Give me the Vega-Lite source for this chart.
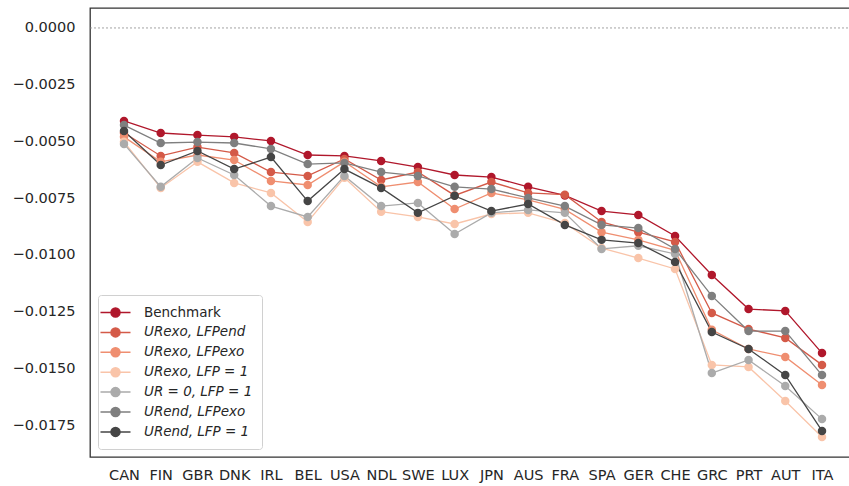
{
  "$schema": "https://vega.github.io/schema/vega-lite/v6.json",
  "width": 766,
  "height": 449,
  "autosize": {"type": "none"},
  "padding": {"left": 90, "top": 8, "right": 0, "bottom": 29},
  "background": "white",
  "config": {
    "font": "DejaVu Sans",
    "view": {"stroke": "#333333", "strokeWidth": 1.3},
    "axis": {"grid": false, "ticks": false, "tickSize": 0, "domain": false, "labelColor": "#262626", "labelFontSize": 14.5, "title": null}
  },
  "datasets": {
    "main": [
      {"c":"CAN","s":"Benchmark","v":-0.0041},{"c":"FIN","s":"Benchmark","v":-0.00463},{"c":"GBR","s":"Benchmark","v":-0.00472},{"c":"DNK","s":"Benchmark","v":-0.0048},{"c":"IRL","s":"Benchmark","v":-0.00498},{"c":"BEL","s":"Benchmark","v":-0.0056},{"c":"USA","s":"Benchmark","v":-0.00564},{"c":"NDL","s":"Benchmark","v":-0.00586},{"c":"SWE","s":"Benchmark","v":-0.00613},{"c":"LUX","s":"Benchmark","v":-0.00648},{"c":"JPN","s":"Benchmark","v":-0.00657},{"c":"AUS","s":"Benchmark","v":-0.0070},{"c":"FRA","s":"Benchmark","v":-0.00738},{"c":"SPA","s":"Benchmark","v":-0.00807},{"c":"GER","s":"Benchmark","v":-0.00824},{"c":"CHE","s":"Benchmark","v":-0.00917},{"c":"GRC","s":"Benchmark","v":-0.01089},{"c":"PRT","s":"Benchmark","v":-0.01239},{"c":"AUT","s":"Benchmark","v":-0.01247},{"c":"ITA","s":"Benchmark","v":-0.01433},
      {"c":"CAN","s":"URexo, LFPend","v":-0.00462},{"c":"FIN","s":"URexo, LFPend","v":-0.00564},{"c":"GBR","s":"URexo, LFPend","v":-0.00525},{"c":"DNK","s":"URexo, LFPend","v":-0.00551},{"c":"IRL","s":"URexo, LFPend","v":-0.00635},{"c":"BEL","s":"URexo, LFPend","v":-0.00652},{"c":"USA","s":"URexo, LFPend","v":-0.00577},{"c":"NDL","s":"URexo, LFPend","v":-0.0067},{"c":"SWE","s":"URexo, LFPend","v":-0.00635},{"c":"LUX","s":"URexo, LFPend","v":-0.00738},{"c":"JPN","s":"URexo, LFPend","v":-0.00679},{"c":"AUS","s":"URexo, LFPend","v":-0.00727},{"c":"FRA","s":"URexo, LFPend","v":-0.00735},{"c":"SPA","s":"URexo, LFPend","v":-0.00855},{"c":"GER","s":"URexo, LFPend","v":-0.009},{"c":"CHE","s":"URexo, LFPend","v":-0.00943},{"c":"GRC","s":"URexo, LFPend","v":-0.01256},{"c":"PRT","s":"URexo, LFPend","v":-0.01327},{"c":"AUT","s":"URexo, LFPend","v":-0.01366},{"c":"ITA","s":"URexo, LFPend","v":-0.01485},
      {"c":"CAN","s":"URexo, LFPexo","v":-0.0048},{"c":"FIN","s":"URexo, LFPexo","v":-0.0059},{"c":"GBR","s":"URexo, LFPexo","v":-0.0056},{"c":"DNK","s":"URexo, LFPexo","v":-0.00582},{"c":"IRL","s":"URexo, LFPexo","v":-0.00674},{"c":"BEL","s":"URexo, LFPexo","v":-0.00692},{"c":"USA","s":"URexo, LFPexo","v":-0.0059},{"c":"NDL","s":"URexo, LFPexo","v":-0.0070},{"c":"SWE","s":"URexo, LFPexo","v":-0.00679},{"c":"LUX","s":"URexo, LFPexo","v":-0.00798},{"c":"JPN","s":"URexo, LFPexo","v":-0.00727},{"c":"AUS","s":"URexo, LFPexo","v":-0.00758},{"c":"FRA","s":"URexo, LFPexo","v":-0.0080},{"c":"SPA","s":"URexo, LFPexo","v":-0.009},{"c":"GER","s":"URexo, LFPexo","v":-0.00934},{"c":"CHE","s":"URexo, LFPexo","v":-0.0098},{"c":"GRC","s":"URexo, LFPexo","v":-0.0133},{"c":"PRT","s":"URexo, LFPexo","v":-0.01415},{"c":"AUT","s":"URexo, LFPexo","v":-0.0145},{"c":"ITA","s":"URexo, LFPexo","v":-0.01574},
      {"c":"CAN","s":"URexo, LFP = 1","v":-0.00502},{"c":"FIN","s":"URexo, LFP = 1","v":-0.00705},{"c":"GBR","s":"URexo, LFP = 1","v":-0.0059},{"c":"DNK","s":"URexo, LFP = 1","v":-0.00683},{"c":"IRL","s":"URexo, LFP = 1","v":-0.00727},{"c":"BEL","s":"URexo, LFP = 1","v":-0.00855},{"c":"USA","s":"URexo, LFP = 1","v":-0.0066},{"c":"NDL","s":"URexo, LFP = 1","v":-0.0081},{"c":"SWE","s":"URexo, LFP = 1","v":-0.00833},{"c":"LUX","s":"URexo, LFP = 1","v":-0.00864},{"c":"JPN","s":"URexo, LFP = 1","v":-0.0082},{"c":"AUS","s":"URexo, LFP = 1","v":-0.00815},{"c":"FRA","s":"URexo, LFP = 1","v":-0.0086},{"c":"SPA","s":"URexo, LFP = 1","v":-0.0097},{"c":"GER","s":"URexo, LFP = 1","v":-0.01014},{"c":"CHE","s":"URexo, LFP = 1","v":-0.01062},{"c":"GRC","s":"URexo, LFP = 1","v":-0.01485},{"c":"PRT","s":"URexo, LFP = 1","v":-0.01494},{"c":"AUT","s":"URexo, LFP = 1","v":-0.01644},{"c":"ITA","s":"URexo, LFP = 1","v":-0.01803},
      {"c":"CAN","s":"UR = 0, LFP = 1","v":-0.00511},{"c":"FIN","s":"UR = 0, LFP = 1","v":-0.0070},{"c":"GBR","s":"UR = 0, LFP = 1","v":-0.00573},{"c":"DNK","s":"UR = 0, LFP = 1","v":-0.00648},{"c":"IRL","s":"UR = 0, LFP = 1","v":-0.00785},{"c":"BEL","s":"UR = 0, LFP = 1","v":-0.00833},{"c":"USA","s":"UR = 0, LFP = 1","v":-0.00652},{"c":"NDL","s":"UR = 0, LFP = 1","v":-0.00785},{"c":"SWE","s":"UR = 0, LFP = 1","v":-0.00771},{"c":"LUX","s":"UR = 0, LFP = 1","v":-0.00908},{"c":"JPN","s":"UR = 0, LFP = 1","v":-0.00815},{"c":"AUS","s":"UR = 0, LFP = 1","v":-0.00802},{"c":"FRA","s":"UR = 0, LFP = 1","v":-0.00815},{"c":"SPA","s":"UR = 0, LFP = 1","v":-0.00974},{"c":"GER","s":"UR = 0, LFP = 1","v":-0.0096},{"c":"CHE","s":"UR = 0, LFP = 1","v":-0.00996},{"c":"GRC","s":"UR = 0, LFP = 1","v":-0.01521},{"c":"PRT","s":"UR = 0, LFP = 1","v":-0.01463},{"c":"AUT","s":"UR = 0, LFP = 1","v":-0.01578},{"c":"ITA","s":"UR = 0, LFP = 1","v":-0.01724},
      {"c":"CAN","s":"URend, LFPexo","v":-0.00428},{"c":"FIN","s":"URend, LFPexo","v":-0.00507},{"c":"GBR","s":"URend, LFPexo","v":-0.00503},{"c":"DNK","s":"URend, LFPexo","v":-0.00507},{"c":"IRL","s":"URend, LFPexo","v":-0.00533},{"c":"BEL","s":"URend, LFPexo","v":-0.006},{"c":"USA","s":"URend, LFPexo","v":-0.00595},{"c":"NDL","s":"URend, LFPexo","v":-0.00635},{"c":"SWE","s":"URend, LFPexo","v":-0.00652},{"c":"LUX","s":"URend, LFPexo","v":-0.0070},{"c":"JPN","s":"URend, LFPexo","v":-0.0071},{"c":"AUS","s":"URend, LFPexo","v":-0.00749},{"c":"FRA","s":"URend, LFPexo","v":-0.00785},{"c":"SPA","s":"URend, LFPexo","v":-0.00868},{"c":"GER","s":"URend, LFPexo","v":-0.00882},{"c":"CHE","s":"URend, LFPexo","v":-0.00974},{"c":"GRC","s":"URend, LFPexo","v":-0.01181},{"c":"PRT","s":"URend, LFPexo","v":-0.01336},{"c":"AUT","s":"URend, LFPexo","v":-0.01336},{"c":"ITA","s":"URend, LFPexo","v":-0.0153},
      {"c":"CAN","s":"URend, LFP = 1","v":-0.00454},{"c":"FIN","s":"URend, LFP = 1","v":-0.00604},{"c":"GBR","s":"URend, LFP = 1","v":-0.00542},{"c":"DNK","s":"URend, LFP = 1","v":-0.00622},{"c":"IRL","s":"URend, LFP = 1","v":-0.00569},{"c":"BEL","s":"URend, LFP = 1","v":-0.00763},{"c":"USA","s":"URend, LFP = 1","v":-0.00622},{"c":"NDL","s":"URend, LFP = 1","v":-0.00705},{"c":"SWE","s":"URend, LFP = 1","v":-0.00815},{"c":"LUX","s":"URend, LFP = 1","v":-0.0074},{"c":"JPN","s":"URend, LFP = 1","v":-0.00807},{"c":"AUS","s":"URend, LFP = 1","v":-0.00776},{"c":"FRA","s":"URend, LFP = 1","v":-0.00868},{"c":"SPA","s":"URend, LFP = 1","v":-0.00934},{"c":"GER","s":"URend, LFP = 1","v":-0.00948},{"c":"CHE","s":"URend, LFP = 1","v":-0.01031},{"c":"GRC","s":"URend, LFP = 1","v":-0.0134},{"c":"PRT","s":"URend, LFP = 1","v":-0.01415},{"c":"AUT","s":"URend, LFP = 1","v":-0.0153},{"c":"ITA","s":"URend, LFP = 1","v":-0.01776}
    ]
  },
  "layer": [
    {
      "data": {"values": [{"z": 0}]},
      "mark": {"type": "rule", "color": "#8c8c8c", "strokeDash": [2, 2], "strokeWidth": 0.8},
      "encoding": {"y": {"field": "z", "type": "quantitative"}}
    },
    {
      "data": {"name": "main"},
      "mark": {"type": "line", "strokeWidth": 1.3},
      "encoding": {
        "x": {"field": "c", "type": "nominal", "sort": null, "scale": {"type": "point", "padding": 0.925}, "axis": {"labelAngle": 0, "labelPadding": 11}},
        "y": {"field": "v", "type": "quantitative", "scale": {"domain": [-0.01891, 0.00088], "nice": false, "zero": false}, "axis": {"values": [0, -0.0025, -0.005, -0.0075, -0.01, -0.0125, -0.015, -0.0175], "format": ".4f", "labelExpr": "replace(datum.label, '-', '\u2212')", "labelPadding": 15}},
        "color": {
          "field": "s", "type": "nominal",
          "scale": {"domain": ["Benchmark", "URexo, LFPend", "URexo, LFPexo", "URexo, LFP = 1", "UR = 0, LFP = 1", "URend, LFPexo", "URend, LFP = 1"], "range": ["#b0172b", "#d45a48", "#ef8e70", "#f9c4a9", "#ababab", "#7f7f7f", "#454545"]},
          "legend": {
            "title": null, "orient": "bottom-left", "offset": 8,
            "fillColor": "white", "strokeColor": "#d0d0d0", "cornerRadius": 3, "padding": 9,
            "symbolType": "M-2,0L2,0M0.6,0A0.6,0.6,0,1,1,-0.6,0A0.6,0.6,0,1,1,0.6,0Z",
            "symbolSize": 225, "symbolStrokeWidth": 1.5,
            "labelFontSize": 13.5, "labelColor": "#262626", "labelOffset": 20, "rowPadding": 3.9,
            "encode": {
              "symbols": {"update": {"fill": {"scale": "color", "field": "value"}, "stroke": {"scale": "color", "field": "value"}, "opacity": {"value": 1}}},
              "labels": {"update": {"fontStyle": [{"test": "datum.value !== 'Benchmark'", "value": "italic"}, {"value": "normal"}]}}
            }
          }
        }
      }
    },
    {
      "data": {"name": "main"},
      "mark": {"type": "circle", "size": 72, "opacity": 1},
      "encoding": {
        "x": {"field": "c", "type": "nominal", "sort": null},
        "y": {"field": "v", "type": "quantitative"},
        "color": {"field": "s", "type": "nominal"}
      }
    }
  ]
}
